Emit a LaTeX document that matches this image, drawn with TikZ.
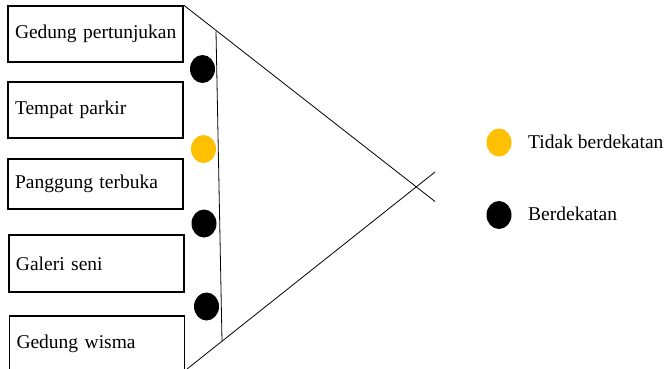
\documentclass[tikz,border=0pt]{standalone}
\usepackage{fontspec}
\setmainfont{Liberation Serif}
\usetikzlibrary{shapes.geometric, positioning}
\definecolor{gold}{HTML}{FFC000}
\newcommand\boxfont{\fontsize{19.5}{21}\selectfont\hfuzz=30pt\relax}

\begin{document}
\begin{tikzpicture}[
        x=1pt, y=-1pt,
        box/.style={draw, line width=1.6pt, rectangle, minimum height=56pt,
            text width=161pt, inner xsep=7pt, inner ysep=0pt, align=left,
            font=\boxfont},
        dot/.style={ellipse, draw=none, minimum width=25pt, minimum height=28pt, inner sep=0pt},
        legend/.style={anchor=base west, inner sep=0pt, font=\fontsize{19.5}{21}\selectfont},
        wire/.style={line width=0.8pt}
        ]
        \useasboundingbox (0,0) rectangle (666,369);

        % Boxes on the left
        \node[box] (gedung) at (95.5,34) {\mbox{Gedung pertunjukan}};
        \node[box] (parkir) at (95.5,110) {\mbox{Tempat parkir}};
        \node[box, minimum height=50pt] (panggung) at (95.5,184) {\mbox{Panggung terbuka}};
        \node[box, minimum height=57pt] (galeri) at (96.5,263.5) {\mbox{Galeri seni}};
        \node[box] (wisma) at (97,344) {\mbox{Gedung wisma}};

        % Points of the lines
        \coordinate (upEnd) at (435,201.5);
        \coordinate (lowStart) at (187,369);
        \coordinate (lowEnd) at (435,172);
        \coordinate (vTop) at (216,31.5);
        \coordinate (vBot) at (222,341);

        % Triangle lines
        \draw[wire] (gedung.north east) -- (upEnd);
        \draw[wire] (lowStart) -- (lowEnd);
        \draw[wire] (vTop) -- (vBot);

        % Dots next to the boxes
        \node[dot, fill=black] (d1) at (202.5,69) {};
        \node[dot, fill=gold] (d2) at (203.5,149) {};
        \node[dot, fill=black] (d3) at (204,223.5) {};
        \node[dot, fill=black] (d4) at (206.5,306.5) {};

        % Legend
        \node[dot, fill=gold] (keyFar) at (499,142.5) {};
        \node[dot, fill=black] (keyNear) at (499,215) {};
        \node[legend] (txtFar) at (528,148) {Tidak berdekatan};
        \node[legend] (txtNear) at (528,220) {Berdekatan};
\end{tikzpicture}
\end{document}
